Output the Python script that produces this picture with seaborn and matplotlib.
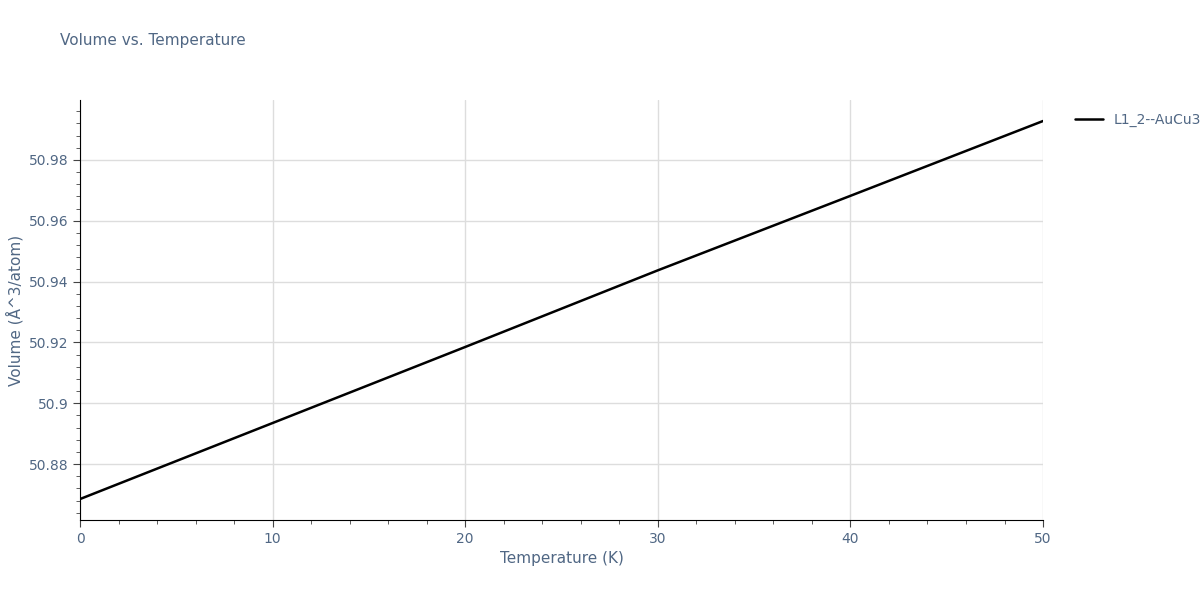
import matplotlib
matplotlib.use("Agg")
import matplotlib.pyplot as plt
import seaborn as sns
import pandas as pd
from matplotlib.ticker import MultipleLocator

temperature = [0, 10, 20, 30, 40, 50]
volume = [50.8685, 50.8935, 50.9185, 50.9437, 50.9682, 50.9928]
series_name = "L1_2--AuCu3"

sns.set_style("white")
plt.rcParams['font.family'] = ['DejaVu Sans']
df = pd.DataFrame({"T": temperature, "V": volume, "s": series_name})

fig = plt.figure(figsize=(12, 6), dpi=100)
ax = fig.add_axes([0.0667, 0.1333, 0.8025, 0.70])
sns.lineplot(data=df, x="T", y="V", hue="s", palette=["black"], lw=1.8, ax=ax)
ax.set_xlim(0, 50)
ax.set_ylim(50.8616, 50.9997)
ax.xaxis.set_major_locator(MultipleLocator(10))
ax.xaxis.set_minor_locator(MultipleLocator(2))
ax.yaxis.set_major_locator(MultipleLocator(0.02))
ax.yaxis.set_minor_locator(MultipleLocator(0.004))
ax.set_yticks([50.88, 50.90, 50.92, 50.94, 50.96, 50.98])
ax.set_yticklabels(["50.88", "50.9", "50.92", "50.94", "50.96", "50.98"])
ax.grid(True, which="major", color="#dddddd", lw=1)
for s in ["top", "right"]:
    ax.spines[s].set_visible(False)
for s in ["left", "bottom"]:
    ax.spines[s].set_color("black")
ax.tick_params(which="both", direction="out", colors="#444444", labelcolor="#506784", labelsize=10)
ax.tick_params(which="major", length=5, left=True, bottom=True)
ax.tick_params(which="minor", length=3, left=True, bottom=True)
ax.set_xlabel("Temperature (K)", color="#506784", fontsize=11)
ax.set_ylabel("Volume (Å^3/atom)", color="#506784", fontsize=11)
fig.text(0.05, 0.925, "Volume vs. Temperature", color="#506784", fontsize=11)
ax.legend(loc="upper left", bbox_to_anchor=(1.02, 1.0), frameon=False, fontsize=10,
          labelcolor="#506784", handlelength=2)
fig.savefig("out.png", dpi=100)
